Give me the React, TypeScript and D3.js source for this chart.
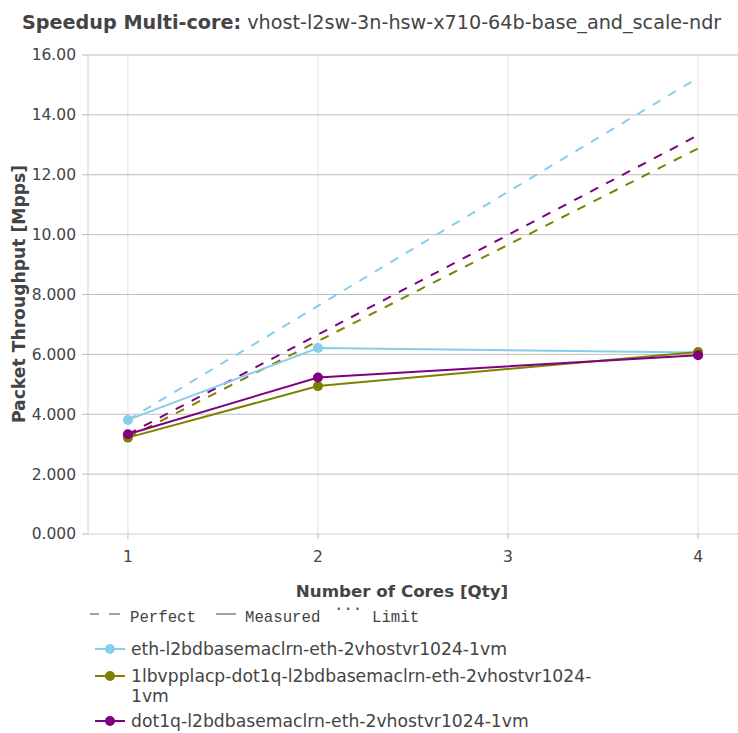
import React from "react";
import * as d3 from "d3";

const cores = [1, 2, 4];
const seriesNames = [
  "eth-l2bdbasemaclrn-eth-2vhostvr1024-1vm",
  "1lbvpplacp-dot1q-l2bdbasemaclrn-eth-2vhostvr1024-1vm",
  "dot1q-l2bdbasemaclrn-eth-2vhostvr1024-1vm",
];
const legendLabels = [
  ["eth-l2bdbasemaclrn-eth-2vhostvr1024-1vm"],
  ["1lbvpplacp-dot1q-l2bdbasemaclrn-eth-2vhostvr1024-", "1vm"],
  ["dot1q-l2bdbasemaclrn-eth-2vhostvr1024-1vm"],
];
const ethValues = [3.81, 6.21, 6.06];
const lbValues = [3.22, 4.94, 6.08];
const dot1qValues = [3.33, 5.23, 5.97];
const seriesColors = ["#87ceeb", "#808000", "#800080"];
const yTicks = [0, 2, 4, 6, 8, 10, 12, 14, 16];
const yTickLabels = ["0.000", "2.000", "4.000", "6.000", "8.000", "10.00", "12.00", "14.00", "16.00"];
const xTicks = [1, 2, 3, 4];

const W = 738;
const H = 733;
const FONT = "'DejaVu Sans', sans-serif";

export default function App() {
  const left = 88, right = 738, top = 55, bottom = 534;
  const x = d3.scaleLinear().domain([0.79, 4.21]).range([left, right]);
  const y = d3.scaleLinear().domain([0, 16]).range([bottom, top]);
  const allValues = [ethValues, lbValues, dot1qValues];
  const line = d3
    .line<[number, number]>()
    .x((d) => x(d[0]))
    .y((d) => y(d[1]));

  return (
    <svg width={W} height={H} style={{ position: "absolute", left: 0, top: 0, fontFamily: FONT }}>
      <rect width={W} height={H} fill="#fff" />
      {/* grid */}
      {xTicks.map((t) => (
        <line key={"gx" + t} x1={x(t)} x2={x(t)} y1={top} y2={bottom} stroke="#e2e2e2" strokeWidth={1} />
      ))}
      {yTicks.map((t) => (
        <line key={"gy" + t} x1={left} x2={right} y1={y(t)} y2={y(t)} stroke={t === 0 ? "#d0d0d0" : "#bdbdbd"} strokeWidth={1} />
      ))}
      <line x1={left} x2={left} y1={top} y2={bottom} stroke="#d0d0d0" strokeWidth={1} />
      {/* ticks */}
      {yTicks.map((t, i) => (
        <g key={"ty" + t}>
          <line x1={left - 6} x2={left} y1={y(t)} y2={y(t)} stroke="#bbb" />
          <text x={left - 12} y={y(t)} dy="0.35em" textAnchor="end" fontSize={15.5} fill="#444">
            {yTickLabels[i]}
          </text>
        </g>
      ))}
      {xTicks.map((t) => (
        <g key={"tx" + t}>
          <line x1={x(t)} x2={x(t)} y1={bottom} y2={bottom + 5} stroke="#bbb" />
          <text x={x(t)} y={562} textAnchor="middle" fontSize={15.5} fill="#444">
            {t}
          </text>
        </g>
      ))}
      {/* perfect lines */}
      {allValues.map((vals, i) => (
        <path
          key={"p" + i}
          d={line([
            [cores[0], vals[0]],
            [cores[cores.length - 1], vals[0] * cores[cores.length - 1]],
          ]) as string}
          fill="none"
          stroke={seriesColors[i]}
          strokeWidth={2}
          strokeDasharray="9,9"
        />
      ))}
      {/* measured */}
      {allValues.map((vals, i) => (
        <g key={"m" + i}>
          <path
            d={line(cores.map((c, j) => [c, vals[j]] as [number, number])) as string}
            fill="none"
            stroke={seriesColors[i]}
            strokeWidth={2}
          />
          {cores.map((c, j) => (
            <circle key={j} cx={x(c)} cy={y(vals[j])} r={5} fill={seriesColors[i]} />
          ))}
        </g>
      ))}
      {/* title */}
      <text x={22} y={29} fontSize={19.2} fill="#444">
        <tspan fontWeight="bold">Speedup Multi-core:</tspan>
        <tspan> vhost-l2sw-3n-hsw-x710-64b-base_and_scale-ndr</tspan>
      </text>
      {/* axis titles */}
      <text x={402} y={597} textAnchor="middle" fontSize={16.7} fontWeight="bold" fill="#444">
        Number of Cores [Qty]
      </text>
      <text
        transform={`translate(25,294) rotate(-90)`}
        textAnchor="middle"
        fontSize={17.2}
        fontWeight="bold"
        fill="#444"
      >
        Packet Throughput [Mpps]
      </text>
      {/* style legend */}
      <g fontFamily="'Liberation Mono', monospace" fontSize={15.7} fill="#444">
        <line x1={90} x2={99} y1={614} y2={614} stroke="#444" strokeWidth={1} />
        <line x1={109} x2={120} y1={614} y2={614} stroke="#444" strokeWidth={1} />
        <text x={130} y={622}>Perfect</text>
        <line x1={216} x2={236} y1={614} y2={614} stroke="#444" strokeWidth={1} />
        <text x={245} y={622}>Measured</text>
        <text x={334} y={613}>···</text>
        <text x={372} y={622}>Limit</text>
      </g>
      {/* series legend */}
      {legendLabels.map((lines, i) => {
        const ly = [649, 676, 721][i];
        return (
          <g key={"l" + i}>
            <line x1={95} x2={125} y1={ly} y2={ly} stroke={seriesColors[i]} strokeWidth={2} />
            <circle cx={110} cy={ly} r={5} fill={seriesColors[i]} />
            {lines.map((s, k) => (
              <text key={k} x={131} y={ly + 20 * k} dy="0.35em" fontSize={17.2} fill="#444">
                {s}
              </text>
            ))}
          </g>
        );
      })}
      <title>{seriesNames.join(", ")}</title>
    </svg>
  );
}
